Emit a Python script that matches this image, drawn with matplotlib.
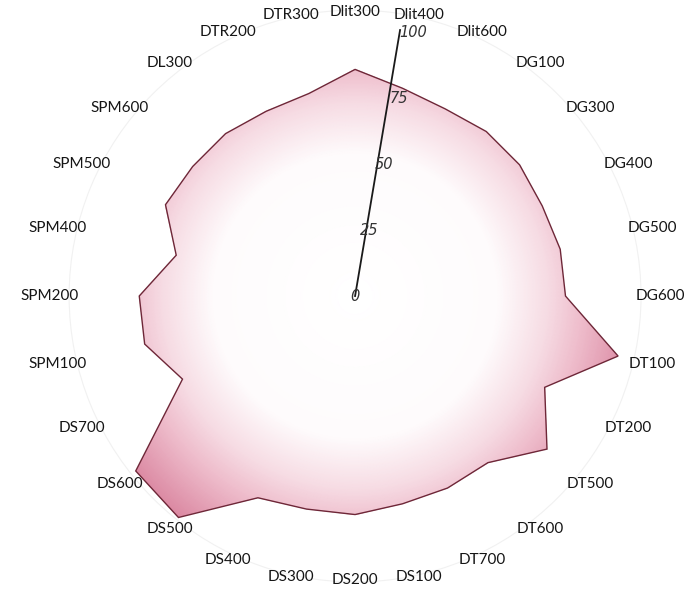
import numpy as np
import matplotlib
matplotlib.use("Agg")
import matplotlib.pyplot as plt
from matplotlib.colors import LinearSegmentedColormap

categories = ["Dlit300", "Dlit400", "Dlit600", "DG100", "DG300", "DG400", "DG500",
              "DG600", "DT100", "DT200", "DT500", "DT600", "DT700", "DS100",
              "DS200", "DS300", "DS400", "DS500", "DS600", "DS700", "SPM100",
              "SPM200", "SPM400", "SPM500", "SPM600", "DL300", "DTR200", "DTR300"]
values = [84, 79, 77, 78, 78, 77, 78, 78, 100, 78, 91, 79, 79, 79,
          81, 81, 83, 105, 104, 71, 80, 80, 68, 78, 77, 77, 76, 77]
rticks = [0, 25, 50, 75, 100]

n = len(categories)
angles = np.linspace(0, 2 * np.pi, n, endpoint=False)
theta = np.append(angles, angles[0])
r = np.append(values, values[0])

fig = plt.figure(figsize=(6.86, 5.89), dpi=100)
ax = fig.add_axes([0.1006, 0.0119, 0.834, 0.971], projection="polar")
ax.set_theta_zero_location("N")
ax.set_theta_direction(-1)
ax.set_xticks([])
ax.set_yticks([])
ax.grid(False)
ax.spines["polar"].set_color("#f1f1f1")
ax.spines["polar"].set_linewidth(0.8)

# pink radial gradient, clipped to the radar polygon
cmap = LinearSegmentedColormap.from_list(
    "pinkfade", [(0, "#ffffff"), (0.5, "#fefbfc"), (0.68, "#f6dbe3"),
                 (0.8, "#eebccb"), (1, "#da86a0")])
tt, rr = np.meshgrid(np.linspace(0, 2 * np.pi, 361), np.linspace(0, 106, 213))
mesh = ax.pcolormesh(tt, rr, rr, cmap=cmap, vmin=0, vmax=106, shading="gouraud")
poly = ax.fill(theta, r, facecolor="none", edgecolor="#6e2738", linewidth=1.0)[0]
mesh.set_clip_path(poly)

# radial axis
ax.plot([np.deg2rad(9.6)] * 2, [0, 100], color="#1a1a1a", linewidth=1.3)
for v in rticks:
    ax.text(np.deg2rad(12.5), v, str(v), ha="center", va="center",
            fontsize=10.5, style="italic", color="#333333")

for ang, lab in zip(angles, categories):
    rc = (284 + 22 * abs(np.sin(ang))) / 2.7
    ax.text(ang, rc, lab, ha="center", va="center", fontsize=11,
            family="Lato", color="#151515", clip_on=False)

ax.set_ylim(0, 106)
fig.savefig("out.png", dpi=100)
